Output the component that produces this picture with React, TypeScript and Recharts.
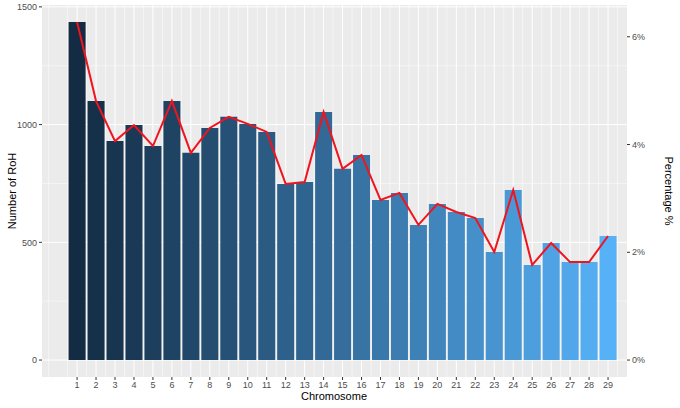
import React from "react";
import { ComposedChart, Bar, Line, XAxis, YAxis, CartesianGrid, Cell } from "recharts";

const chromosomes = [1,2,3,4,5,6,7,8,9,10,11,12,13,14,15,16,17,18,19,20,21,22,23,24,25,26,27,28,29];
const rohCounts = [1436,1100,930,998,909,1100,880,986,1033,1003,969,748,756,1054,812,871,680,710,574,663,629,603,459,722,404,497,416,416,527];
const leftTicks = [0,500,1000,1500];
const minorLeft = [250,750,1250];
const rightTicks = [0,2,4,6];

const total = rohCounts.reduce((a, b) => a + b, 0);
const data = chromosomes.map((c, i) => ({ chr: c, count: rohCounts[i], pct: (rohCounts[i] / total) * 100 }));
const minorX = Array.from({ length: 31 }, (_, i) => i - 0.5);

function color(i: number) {
  const t = i / (chromosomes.length - 1);
  const a = [0x13, 0x2b, 0x43], b = [0x56, 0xb1, 0xf7];
  const c = a.map((v, k) => Math.round(v + (b[k] - v) * t));
  return `rgb(${c[0]},${c[1]},${c[2]})`;
}

const font = "Liberation Sans, Arial, sans-serif";
const tickStyle = { fill: "#4D4D4D", fontSize: 9, fontFamily: font };
const lo = -72, hi = 1508;

export default function App() {
  return (
    <div style={{ position: "absolute", left: 0, top: 0, width: 680, height: 408, fontFamily: font }}>
      <ComposedChart width={680} height={408} data={data} margin={{ top: 5, right: 0, bottom: 0, left: 0 }}>
        <CartesianGrid fill="#EBEBEB" stroke="#FFFFFF" strokeWidth={0.5} horizontalValues={minorLeft} verticalValues={minorX} yAxisId="l" />
        <CartesianGrid stroke="#FFFFFF" strokeWidth={1} horizontalValues={leftTicks} verticalValues={chromosomes} yAxisId="l" />
        <XAxis dataKey="chr" type="number" domain={[-0.85, 30]} ticks={chromosomes} interval={0} allowDataOverflow
          tick={tickStyle} tickLine={{ stroke: "#333" }} axisLine={false} tickSize={3} height={31} />
        <YAxis yAxisId="l" domain={[lo, hi]} ticks={leftTicks} allowDataOverflow width={42} tick={tickStyle}
          tickLine={{ stroke: "#333" }} axisLine={false} tickSize={3} />
        <YAxis yAxisId="r" orientation="right" domain={[(lo / total) * 100, (hi / total) * 100]} ticks={rightTicks} allowDataOverflow
          width={53} tick={tickStyle} tickFormatter={(v) => `${v}%`} tickLine={{ stroke: "#333" }} axisLine={false} tickSize={3} />
        <Bar yAxisId="l" dataKey="count" barSize={17} isAnimationActive={false}>
          {data.map((d, i) => (
            <Cell key={i} fill={color(i)} />
          ))}
        </Bar>
        <Line yAxisId="r" dataKey="pct" stroke="#F0141E" strokeWidth={2} dot={false} isAnimationActive={false} />
      </ComposedChart>
      <div style={{ position: "absolute", left: 334, top: 390, transform: "translateX(-50%)", fontSize: 11, whiteSpace: "nowrap" }}>Chromosome</div>
      <div style={{ position: "absolute", left: 12, top: 191, transform: "translate(-50%,-50%) rotate(-90deg)", fontSize: 11, whiteSpace: "nowrap" }}>Number of RoH</div>
      <div style={{ position: "absolute", left: 669, top: 191, transform: "translate(-50%,-50%) rotate(90deg)", fontSize: 11, whiteSpace: "nowrap" }}>Percentage %</div>
    </div>
  );
}
